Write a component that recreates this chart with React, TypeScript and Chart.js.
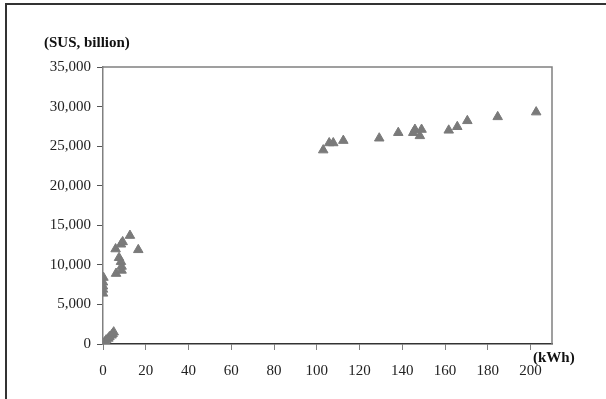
import React, { useEffect, useRef } from "react";
import { Chart, registerables } from "chart.js";

Chart.register(...registerables);

const xValues: number[] = [
  0.3, 1, 1.5, 2.5, 3, 4, 4.5, 5,
  0, 0, 0, 0, 0.2,
  6.1, 8.7, 8.7, 8.4, 7.5, 5.9, 8.4, 9.2, 12.6, 16.5,
  103.0, 105.8, 107.7, 112.4, 129.2, 138.1, 145.1, 145.9, 148.2, 149.0,
  161.7, 165.7, 170.4, 184.6, 202.6,
];
const yValues: number[] = [
  100, 300, 500, 700, 900, 1100, 1300, 1500,
  6400, 6900, 7300, 7800, 8400,
  8900, 9300, 9800, 10400, 10900, 12000, 12600, 12900, 13700, 11900,
  24500, 25400, 25400, 25700, 26000, 26700, 26700, 27100, 26300, 27100,
  27000, 27450, 28200, 28700, 29300,
];
const xTickMax = 210;
const xTickStep = 20;
const yTickMax = 35000;
const yTickStep = 5000;
const yAxisLabel = "(SUS, billion)";
const xAxisLabel = "(kWh)";

const frameColor = "#808080";
const fontFamily = "'Liberation Serif', 'Times New Roman', serif";

export default function App() {
  const canvasRef = useRef<HTMLCanvasElement | null>(null);

  useEffect(() => {
    const canvas = canvasRef.current;
    if (!canvas) return;
    const framePlugin = {
      id: "frame",
      beforeDatasetsDraw(chart: any) {
        const { ctx, chartArea } = chart;
        ctx.save();
        ctx.strokeStyle = frameColor;
        ctx.lineWidth = 1.5;
        ctx.beginPath();
        ctx.moveTo(chartArea.left, chartArea.top);
        ctx.lineTo(chartArea.right, chartArea.top);
        ctx.lineTo(chartArea.right, chartArea.bottom);
        ctx.stroke();
        ctx.restore();
      },
    };
    const chart = new Chart(canvas, {
      type: "scatter",
      data: {
        datasets: [
          {
            data: xValues.map((x, i) => ({ x, y: yValues[i] })),
            pointStyle: "triangle",
            pointRadius: 5.5,
            backgroundColor: "#7a7a7a",
            borderColor: "#7a7a7a",
            borderWidth: 1,
          },
        ],
      },
      options: {
        animation: false,
        responsive: false,
        maintainAspectRatio: false,
        layout: { padding: { left: 0, top: 67, right: 54, bottom: 0 } },
        plugins: {
          legend: { display: false },
          tooltip: { enabled: false },
        },
        scales: {
          x: {
            type: "linear",
            min: 0,
            max: xTickMax,
            afterFit(scale: any) {
              scale.height = 55;
            },
            ticks: {
              stepSize: xTickStep,
              includeBounds: false,
              color: "#222",
              font: { family: fontFamily, size: 15 },
              padding: 12,
              maxRotation: 0,
            },
            grid: {
              drawOnChartArea: false,
              drawTicks: true,
              tickLength: 6,
              color: "#808080",
            },
            border: { display: true, color: "#333", width: 1.5 },
          },
          y: {
            type: "linear",
            min: 0,
            max: yTickMax,
            afterFit(scale: any) {
              scale.width = 103;
            },
            ticks: {
              stepSize: yTickStep,
              color: "#222",
              font: { family: fontFamily, size: 15 },
              padding: 6,
              callback: (v: any) => Number(v).toLocaleString("en-US"),
            },
            grid: {
              drawOnChartArea: false,
              drawTicks: true,
              tickLength: 6,
              color: "#555",
            },
            border: { display: true, color: frameColor, width: 1.5 },
          },
        },
      },
      plugins: [framePlugin],
    });
    return () => chart.destroy();
  }, []);

  return (
    <div
      style={{
        position: "fixed",
        left: 0,
        top: 0,
        width: 606,
        height: 399,
        background: "#fff",
        overflow: "hidden",
      }}
    >
      <div
        style={{
          position: "absolute",
          left: 5,
          top: 3,
          width: 620,
          height: 420,
          border: "2px solid #333",
          boxSizing: "border-box",
        }}
      />
      <canvas
        ref={canvasRef}
        width={606}
        height={399}
        style={{ position: "absolute", left: 0, top: 0, width: 606, height: 399 }}
      />
      <div
        style={{
          position: "absolute",
          left: 44,
          top: 33,
          fontFamily,
          fontWeight: "bold",
          fontSize: 15,
          lineHeight: "18px",
          color: "#111",
          whiteSpace: "nowrap",
        }}
      >
        {yAxisLabel}
      </div>
      <div
        style={{
          position: "absolute",
          left: 533,
          top: 348,
          fontFamily,
          fontWeight: "bold",
          fontSize: 15,
          lineHeight: "18px",
          color: "#111",
          whiteSpace: "nowrap",
        }}
      >
        {xAxisLabel}
      </div>
    </div>
  );
}
